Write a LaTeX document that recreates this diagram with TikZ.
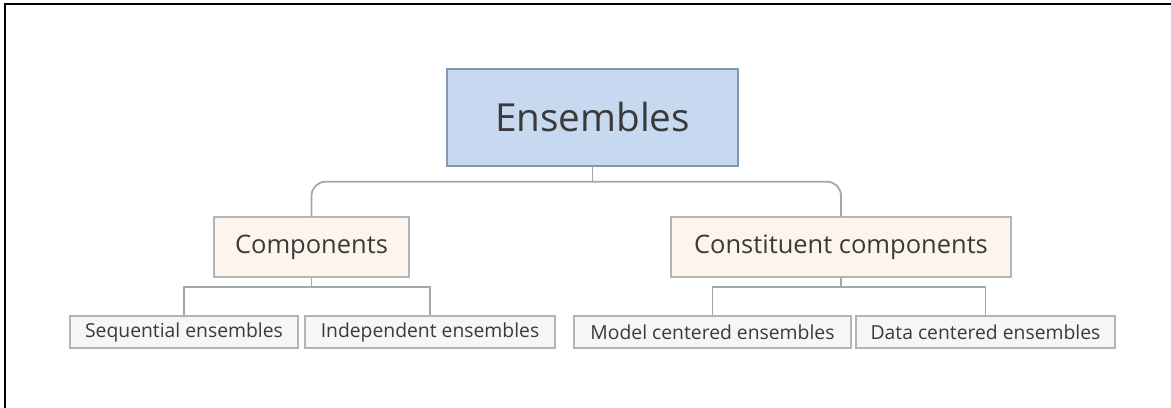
\documentclass[tikz,border=0pt]{standalone}
\usepackage{fontspec}
\setmainfont{Open Sans}
\usepackage{tikz}
\usetikzlibrary{positioning}
\definecolor{rootfill}{HTML}{C6D9F0}
\definecolor{rootdraw}{HTML}{8496B0}
\definecolor{midfill}{HTML}{FDF4EC}
\definecolor{leaffill}{HTML}{F6F6F6}
\definecolor{boxdraw}{HTML}{B4B4B4}
\definecolor{linkgray}{HTML}{A6A6A6}
\definecolor{textgray}{HTML}{3A3A3A}
\tikzset{rootbox/.style={draw=rootdraw, fill=rootfill, line width=0.8pt, minimum width=5.82cm, minimum height=1.94cm, text=textgray, font=\fontsize{22}{26}\selectfont}}
\tikzset{midbox/.style={draw=boxdraw, fill=midfill, line width=0.8pt, minimum height=1.2cm, text=textgray, font=\fontsize{14.5}{17}\selectfont}}
\tikzset{leafbox/.style={draw=boxdraw, fill=leaffill, line width=0.8pt, minimum height=0.64cm, text=textgray, font=\fontsize{11}{13}\selectfont}}
\tikzset{link/.style={draw=linkgray, line width=1pt}}

\begin{document}
\begin{tikzpicture}[x=0.02cm, y=-0.02cm]
            \useasboundingbox (0, 0) rectangle (1171, 408);
            \draw[line width=1.2pt] (5, 408) -- (5, 4) -- (1171, 4);
            \node[rootbox] (ens) at (592.5, 117.5) {Ensembles};
            \node[midbox, minimum width=3.9cm] (comp) at (311.5, 247) {Components};
            \node[midbox, minimum width=6.8cm] (const) at (841, 247) {Constituent components};
            \node[leafbox, minimum width=4.56cm] (seq) at (184, 332) {Sequential ensembles};
            \node[leafbox, minimum width=5cm] (indep) at (430, 332) {Independent ensembles};
            \node[leafbox, minimum width=5.54cm] (model) at (712.5, 332) {Model centered ensembles};
            \node[leafbox, minimum width=5.18cm] (data) at (985.5, 332) {Data centered ensembles};
            % tree links
            \draw[link] (ens.south) -- ++(0, 15) coordinate (top);
            \draw[link, rounded corners=8] (comp.north) |- (top) -| (const.north);
            \draw[link] (comp.south) -- ++(0, 9) coordinate (left);
            \draw[link] (seq.north) |- (left) -| (indep.north);
            \draw[link] (const.south) -- ++(0, 9) coordinate (right);
            \draw[link] (model.north) |- (right) -| (data.north);
        \end{tikzpicture}
\end{document}
